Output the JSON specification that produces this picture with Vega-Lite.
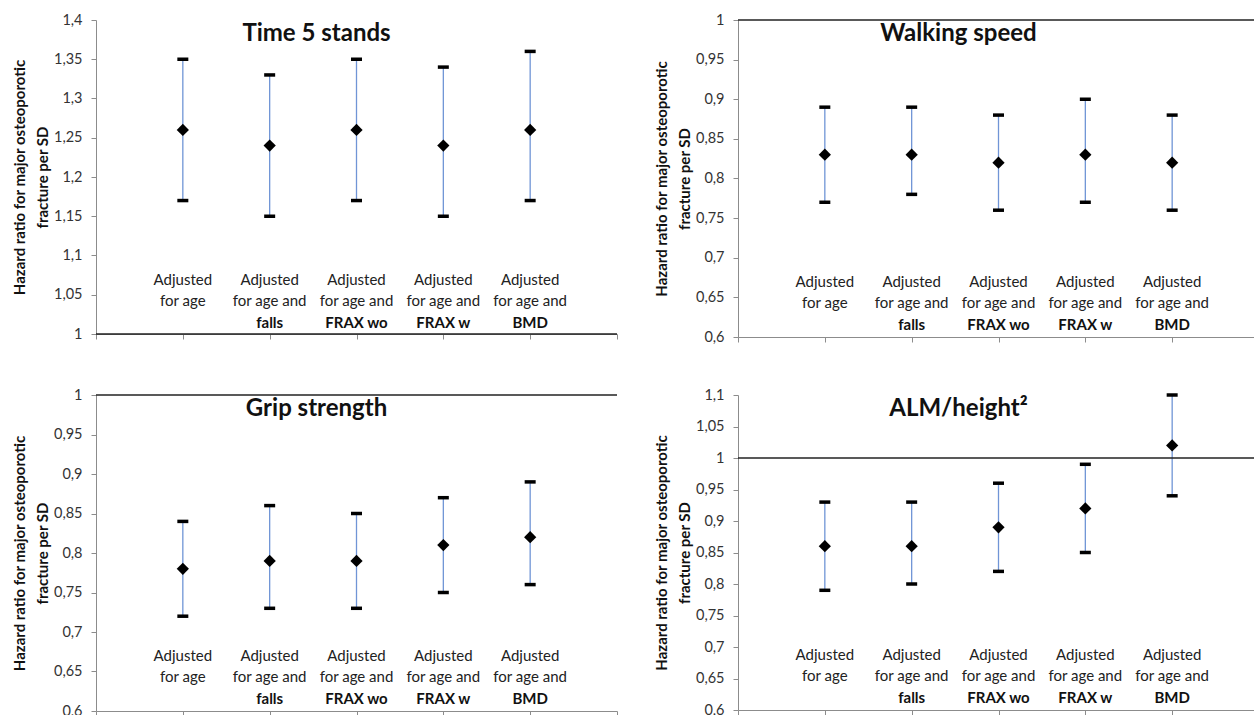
{
  "$schema": "https://vega.github.io/schema/vega-lite/v6.json",
  "background": "white",
  "padding": {"left": 12, "top": 12, "right": 0, "bottom": 0},
  "datasets": {
    "hr": [
      {"panel": "t5", "cat": 1, "est": 1.26, "lo": 1.17, "hi": 1.35},
      {"panel": "t5", "cat": 2, "est": 1.24, "lo": 1.15, "hi": 1.33},
      {"panel": "t5", "cat": 3, "est": 1.26, "lo": 1.17, "hi": 1.35},
      {"panel": "t5", "cat": 4, "est": 1.24, "lo": 1.15, "hi": 1.34},
      {"panel": "t5", "cat": 5, "est": 1.26, "lo": 1.17, "hi": 1.36},
      {"panel": "ws", "cat": 1, "est": 0.83, "lo": 0.77, "hi": 0.89},
      {"panel": "ws", "cat": 2, "est": 0.83, "lo": 0.78, "hi": 0.89},
      {"panel": "ws", "cat": 3, "est": 0.82, "lo": 0.76, "hi": 0.88},
      {"panel": "ws", "cat": 4, "est": 0.83, "lo": 0.77, "hi": 0.90},
      {"panel": "ws", "cat": 5, "est": 0.82, "lo": 0.76, "hi": 0.88},
      {"panel": "gs", "cat": 1, "est": 0.78, "lo": 0.72, "hi": 0.84},
      {"panel": "gs", "cat": 2, "est": 0.79, "lo": 0.73, "hi": 0.86},
      {"panel": "gs", "cat": 3, "est": 0.79, "lo": 0.73, "hi": 0.85},
      {"panel": "gs", "cat": 4, "est": 0.81, "lo": 0.75, "hi": 0.87},
      {"panel": "gs", "cat": 5, "est": 0.82, "lo": 0.76, "hi": 0.89},
      {"panel": "alm", "cat": 1, "est": 0.86, "lo": 0.79, "hi": 0.93},
      {"panel": "alm", "cat": 2, "est": 0.86, "lo": 0.80, "hi": 0.93},
      {"panel": "alm", "cat": 3, "est": 0.89, "lo": 0.82, "hi": 0.96},
      {"panel": "alm", "cat": 4, "est": 0.92, "lo": 0.85, "hi": 0.99},
      {"panel": "alm", "cat": 5, "est": 1.02, "lo": 0.94, "hi": 1.10}
    ],
    "cats": [
      {"cat": 1, "lines": "Adjusted\nfor age", "bold": ""},
      {"cat": 2, "lines": "Adjusted\nfor age and", "bold": "falls"},
      {"cat": 3, "lines": "Adjusted\nfor age and", "bold": "FRAX wo"},
      {"cat": 4, "lines": "Adjusted\nfor age and", "bold": "FRAX w"},
      {"cat": 5, "lines": "Adjusted\nfor age and", "bold": "BMD"}
    ],
    "panels": [
      {"panel": "t5", "name": "Time 5 stands"},
      {"panel": "ws", "name": "Walking speed"},
      {"panel": "gs", "name": "Grip strength"},
      {"panel": "alm", "name": "ALM/height²"}
    ]
  },
  "spacing": 43,
  "vconcat": [
    {
      "spacing": 36,
      "hconcat": [
        {
          "width": 521,
          "height": 314,
          "title": {"text": "Time 5 stands"},
          "encoding": {
            "x": {"field": "cat", "type": "quantitative", "scale": {"domain": [0, 6]}, "title": null,
                  "axis": {"tickCount": 6, "labels": false}}
          },
          "layer": [
            {
              "data": {"name": "hr"},
              "transform": [{"filter": "datum.panel === 't5'"}],
              "mark": {"type": "rule", "color": "#7095d6", "strokeWidth": 1.3},
              "encoding": {
                "y": {"field": "lo", "type": "quantitative", "scale": {"domain": [1, 1.4], "nice": false, "zero": false},
                      "axis": {"tickCount": 8, "title": ["Hazard ratio for major osteoporotic", "fracture per SD"]}},
                "y2": {"field": "hi"}
              }
            },
            {
              "data": {"name": "hr"},
              "transform": [{"filter": "datum.panel === 't5'"}],
              "mark": {"type": "tick", "orient": "horizontal", "color": "#000", "opacity": 1, "size": 11, "thickness": 3.5},
              "encoding": {"y": {"field": "lo", "type": "quantitative"}}
            },
            {
              "data": {"name": "hr"},
              "transform": [{"filter": "datum.panel === 't5'"}],
              "mark": {"type": "tick", "orient": "horizontal", "color": "#000", "opacity": 1, "size": 11, "thickness": 3.5},
              "encoding": {"y": {"field": "hi", "type": "quantitative"}}
            },
            {
              "data": {"name": "hr"},
              "transform": [{"filter": "datum.panel === 't5'"}],
              "mark": {"type": "point", "shape": "diamond", "filled": true, "color": "#000", "size": 150, "opacity": 1},
              "encoding": {"y": {"field": "est", "type": "quantitative"}}
            },
            {
              "data": {"name": "panels"},
              "transform": [{"filter": "datum.panel === 't5'"}],
              "mark": {"type": "rule", "color": "#222", "strokeWidth": 1.6},
              "encoding": {"y": {"datum": 1, "type": "quantitative"}, "x": null}
            },
            {
              "data": {"name": "cats"},
              "mark": {"type": "text", "lineBreak": "\n", "lineHeight": 21, "fontSize": 15, "color": "#222", "baseline": "alphabetic", "dy": -49},
              "encoding": {"y": {"datum": 1, "type": "quantitative"}, "text": {"field": "lines"}}
            },
            {
              "data": {"name": "cats"},
              "mark": {"type": "text", "fontSize": 15, "fontWeight": "bold", "color": "#111", "baseline": "alphabetic", "dy": -6},
              "encoding": {"y": {"datum": 1, "type": "quantitative"}, "text": {"field": "bold"}}
            }
          ]
        },
        {
          "width": 521,
          "height": 317,
          "title": {"text": "Walking speed"},
          "encoding": {
            "x": {"field": "cat", "type": "quantitative", "scale": {"domain": [0, 6]}, "title": null,
                  "axis": {"tickCount": 6, "labels": false}}
          },
          "layer": [
            {
              "data": {"name": "hr"},
              "transform": [{"filter": "datum.panel === 'ws'"}],
              "mark": {"type": "rule", "color": "#7095d6", "strokeWidth": 1.3},
              "encoding": {
                "y": {"field": "lo", "type": "quantitative", "scale": {"domain": [0.6, 1], "nice": false, "zero": false},
                      "axis": {"tickCount": 8, "title": ["Hazard ratio for major osteoporotic", "fracture per SD"]}},
                "y2": {"field": "hi"}
              }
            },
            {
              "data": {"name": "hr"},
              "transform": [{"filter": "datum.panel === 'ws'"}],
              "mark": {"type": "tick", "orient": "horizontal", "color": "#000", "opacity": 1, "size": 11, "thickness": 3.5},
              "encoding": {"y": {"field": "lo", "type": "quantitative"}}
            },
            {
              "data": {"name": "hr"},
              "transform": [{"filter": "datum.panel === 'ws'"}],
              "mark": {"type": "tick", "orient": "horizontal", "color": "#000", "opacity": 1, "size": 11, "thickness": 3.5},
              "encoding": {"y": {"field": "hi", "type": "quantitative"}}
            },
            {
              "data": {"name": "hr"},
              "transform": [{"filter": "datum.panel === 'ws'"}],
              "mark": {"type": "point", "shape": "diamond", "filled": true, "color": "#000", "size": 150, "opacity": 1},
              "encoding": {"y": {"field": "est", "type": "quantitative"}}
            },
            {
              "data": {"name": "panels"},
              "transform": [{"filter": "datum.panel === 'ws'"}],
              "mark": {"type": "rule", "color": "#222", "strokeWidth": 1.6},
              "encoding": {"y": {"datum": 1, "type": "quantitative"}, "x": null}
            },
            {
              "data": {"name": "cats"},
              "mark": {"type": "text", "lineBreak": "\n", "lineHeight": 21, "fontSize": 15, "color": "#222", "baseline": "alphabetic", "dy": -50},
              "encoding": {"y": {"datum": 0.6, "type": "quantitative"}, "text": {"field": "lines"}}
            },
            {
              "data": {"name": "cats"},
              "mark": {"type": "text", "fontSize": 15, "fontWeight": "bold", "color": "#111", "baseline": "alphabetic", "dy": -7},
              "encoding": {"y": {"datum": 0.6, "type": "quantitative"}, "text": {"field": "bold"}}
            }
          ]
        }
      ]
    },
    {
      "spacing": 36,
      "hconcat": [
        {
          "width": 521,
          "height": 316,
          "title": {"text": "Grip strength"},
          "encoding": {
            "x": {"field": "cat", "type": "quantitative", "scale": {"domain": [0, 6]}, "title": null,
                  "axis": {"tickCount": 6, "labels": false}}
          },
          "layer": [
            {
              "data": {"name": "hr"},
              "transform": [{"filter": "datum.panel === 'gs'"}],
              "mark": {"type": "rule", "color": "#7095d6", "strokeWidth": 1.3},
              "encoding": {
                "y": {"field": "lo", "type": "quantitative", "scale": {"domain": [0.6, 1], "nice": false, "zero": false},
                      "axis": {"tickCount": 8, "title": ["Hazard ratio for major osteoporotic", "fracture per SD"]}},
                "y2": {"field": "hi"}
              }
            },
            {
              "data": {"name": "hr"},
              "transform": [{"filter": "datum.panel === 'gs'"}],
              "mark": {"type": "tick", "orient": "horizontal", "color": "#000", "opacity": 1, "size": 11, "thickness": 3.5},
              "encoding": {"y": {"field": "lo", "type": "quantitative"}}
            },
            {
              "data": {"name": "hr"},
              "transform": [{"filter": "datum.panel === 'gs'"}],
              "mark": {"type": "tick", "orient": "horizontal", "color": "#000", "opacity": 1, "size": 11, "thickness": 3.5},
              "encoding": {"y": {"field": "hi", "type": "quantitative"}}
            },
            {
              "data": {"name": "hr"},
              "transform": [{"filter": "datum.panel === 'gs'"}],
              "mark": {"type": "point", "shape": "diamond", "filled": true, "color": "#000", "size": 150, "opacity": 1},
              "encoding": {"y": {"field": "est", "type": "quantitative"}}
            },
            {
              "data": {"name": "panels"},
              "transform": [{"filter": "datum.panel === 'gs'"}],
              "mark": {"type": "rule", "color": "#222", "strokeWidth": 1.6},
              "encoding": {"y": {"datum": 1, "type": "quantitative"}, "x": null}
            },
            {
              "data": {"name": "cats"},
              "mark": {"type": "text", "lineBreak": "\n", "lineHeight": 21, "fontSize": 15, "color": "#222", "baseline": "alphabetic", "dy": -50},
              "encoding": {"y": {"datum": 0.6, "type": "quantitative"}, "text": {"field": "lines"}}
            },
            {
              "data": {"name": "cats"},
              "mark": {"type": "text", "fontSize": 15, "fontWeight": "bold", "color": "#111", "baseline": "alphabetic", "dy": -7},
              "encoding": {"y": {"datum": 0.6, "type": "quantitative"}, "text": {"field": "bold"}}
            }
          ]
        },
        {
          "width": 521,
          "height": 315,
          "title": {"text": "ALM/height²"},
          "encoding": {
            "x": {"field": "cat", "type": "quantitative", "scale": {"domain": [0, 6]}, "title": null,
                  "axis": {"tickCount": 6, "labels": false}}
          },
          "layer": [
            {
              "data": {"name": "hr"},
              "transform": [{"filter": "datum.panel === 'alm'"}],
              "mark": {"type": "rule", "color": "#7095d6", "strokeWidth": 1.3},
              "encoding": {
                "y": {"field": "lo", "type": "quantitative", "scale": {"domain": [0.6, 1.1], "nice": false, "zero": false},
                      "axis": {"tickCount": 10, "title": ["Hazard ratio for major osteoporotic", "fracture per SD"]}},
                "y2": {"field": "hi"}
              }
            },
            {
              "data": {"name": "hr"},
              "transform": [{"filter": "datum.panel === 'alm'"}],
              "mark": {"type": "tick", "orient": "horizontal", "color": "#000", "opacity": 1, "size": 11, "thickness": 3.5},
              "encoding": {"y": {"field": "lo", "type": "quantitative"}}
            },
            {
              "data": {"name": "hr"},
              "transform": [{"filter": "datum.panel === 'alm'"}],
              "mark": {"type": "tick", "orient": "horizontal", "color": "#000", "opacity": 1, "size": 11, "thickness": 3.5},
              "encoding": {"y": {"field": "hi", "type": "quantitative"}}
            },
            {
              "data": {"name": "hr"},
              "transform": [{"filter": "datum.panel === 'alm'"}],
              "mark": {"type": "point", "shape": "diamond", "filled": true, "color": "#000", "size": 150, "opacity": 1},
              "encoding": {"y": {"field": "est", "type": "quantitative"}}
            },
            {
              "data": {"name": "panels"},
              "transform": [{"filter": "datum.panel === 'alm'"}],
              "mark": {"type": "rule", "color": "#222", "strokeWidth": 1.6},
              "encoding": {"y": {"datum": 1, "type": "quantitative"}, "x": null}
            },
            {
              "data": {"name": "cats"},
              "mark": {"type": "text", "lineBreak": "\n", "lineHeight": 21, "fontSize": 15, "color": "#222", "baseline": "alphabetic", "dy": -50},
              "encoding": {"y": {"datum": 0.6, "type": "quantitative"}, "text": {"field": "lines"}}
            },
            {
              "data": {"name": "cats"},
              "mark": {"type": "text", "fontSize": 15, "fontWeight": "bold", "color": "#111", "baseline": "alphabetic", "dy": -7},
              "encoding": {"y": {"datum": 0.6, "type": "quantitative"}, "text": {"field": "bold"}}
            }
          ]
        }
      ]
    }
  ],
  "config": {
    "font": "Lato",
    "view": {"stroke": null},
    "title": {"font": "Lato", "fontSize": 24, "fontWeight": "bold", "color": "#111", "anchor": "middle", "frame": "group", "dx": -40, "offset": -34},
    "axis": {
      "grid": false,
      "domainColor": "#8c8c8c",
      "tickColor": "#8c8c8c",
      "tickSize": 5,
      "labelFont": "Lato",
      "labelFontSize": 14.5,
      "labelColor": "#333",
      "titleFont": "Lato",
      "titleFontSize": 15,
      "titleFontWeight": "bold",
      "titleColor": "#111"
    },
    "axisY": {
      "labelPadding": 9,
      "titlePadding": 3,
      "titleLineHeight": 23,
      "labelOverlap": false,
      "labelExpr": "replace(format(datum.value, '~g'), '.', ',')"
    }
  }
}
